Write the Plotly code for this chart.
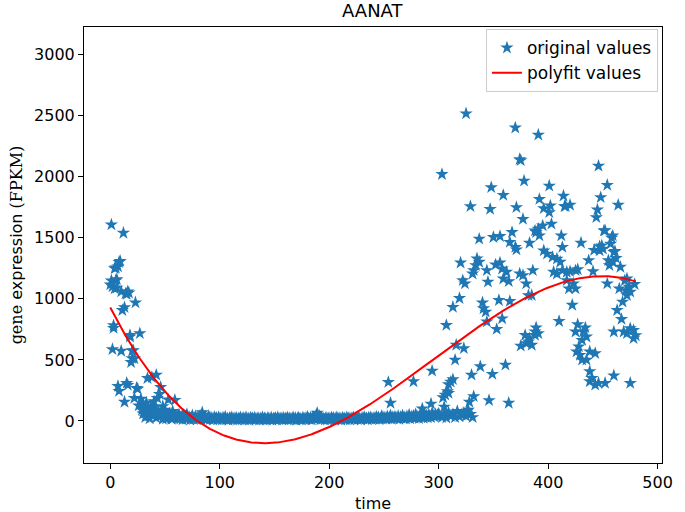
import numpy as np
import plotly.graph_objects as go

# ---------------- data ----------------
# early decay, time 0..60
x_early = list(range(0, 61))
y_early = [1117, 1608, 587, 782, 1084, 1255, 1160, 285, 245, 1310,
           573, 907, 1540, 155, 1043, 310, 293, 1050, 703, 481,
           513, 578, 187, 970, 269, 263, 125, 717, 180, 90,
           140, 65, 110, 150, 350, 41, 60, 120, 358, 90,
           160, 75, 377, 187, 40, 220, 277, 60, 120, 30,
           90, 20, 40, 174, 60, 30, 15, 80, 25, 171, 40]

# overlapping stars in the early cluster
x_early_dup = [1, 2, 3, 4, 5, 6, 7, 8, 10, 13, 15, 16, 18, 20, 22]
y_early_dup = [1150, 1100, 760, 1250, 1150, 1090, 1265, 1300, 1060, 930, 1040, 1060, 690, 575, 510]

# extra low points of the early cluster
x_early_low = [30, 32, 34, 36, 38, 40, 42, 44, 46, 48, 50, 52, 54, 56, 58, 62, 64, 66]
y_early_low = [60, 30, 90, 20, 50, 110, 25, 80, 40, 15, 60, 25, 45, 20, 35, 50, 30, 45]

# flat band, time 61..300
x_band = list(range(61, 301))
y_band = [35, 22, 48, 18, 30, 12, 40, 25, 15, 55, 20, 33, 10, 28, 45, 16, 24, 38, 12, 30,
          20, 42, 15, 70, 26, 18, 35, 12, 22, 40, 14, 28, 20, 10, 32, 18, 25, 12, 30, 16,
          22, 10, 28, 15, 35, 12, 20, 8, 25, 18, 30, 10, 22, 14, 26, 9, 20, 15, 28, 12,
          18, 24, 10, 30, 14, 20, 8, 26, 16, 22, 12, 28, 10, 18, 24, 9, 20, 14, 30, 12,
          22, 16, 10, 26, 18, 12, 28, 8, 20, 15, 24, 10, 30, 14, 18, 22, 9, 26, 12, 20,
          16, 28, 10, 22, 14, 18, 30, 12, 24, 8, 20, 26, 14, 18, 10, 28, 16, 22, 12, 35,
          20, 14, 26, 10, 30, 18, 24, 45, 65, 22, 40, 12, 28, 16, 20, 10, 26, 14, 22, 18,
          12, 28, 16, 24, 10, 20, 30, 14, 22, 18, 8, 26, 15, 20, 12, 28, 18, 24, 10, 22,
          16, 30, 12, 20, 25, 14, 28, 18, 10, 24, 20, 32, 15, 22, 12, 26, 18, 30, 14, 20,
          25, 16, 35, 20, 28, 14, 22, 40, 18, 30, 24, 15, 38, 20, 26, 45, 18, 30, 22, 35,
          28, 20, 40, 16, 32, 25, 45, 22, 30, 18, 38, 26, 50, 20, 35, 28, 42, 24, 55, 30,
          36, 22, 48, 30, 40, 26, 60, 34, 45, 28, 52, 38, 30, 65, 42, 35, 55, 40, 48, 60]

# tail of the band, time 301..331
x_band2 = [301, 303, 305, 307, 309, 311, 313, 315, 317, 319, 321, 323, 325, 327, 329, 331]
y_band2 = [45, 30, 60, 25, 70, 40, 55, 30, 80, 35, 50, 65, 40, 90, 55, 30]

# rising / high region
x_rise = [254, 256, 277, 285, 293, 294, 303, 304, 305, 306, 307, 308, 309, 309, 311, 313, 313, 315, 316, 319,
          320, 322, 323, 324, 325, 326, 328, 329, 330, 331, 332, 332, 334, 335, 337, 337, 338, 340, 341, 343,
          344, 344, 345, 346, 347, 348, 349, 350, 352, 353, 355, 356, 356, 358, 358, 359, 359, 361, 362, 364,
          364, 365, 365, 367, 370, 370, 371, 371, 374, 375, 374, 375, 377, 377, 378, 379, 380, 380, 382, 382,
          383, 383, 385, 385, 386, 388, 388, 388, 389, 389, 391, 392, 391, 391, 392, 395, 395, 396, 396, 399,
          401, 402, 401, 403, 404, 405, 408, 408, 410, 411, 412, 413, 413, 414, 415, 417, 417, 419, 420, 420,
          422, 423, 425, 425, 425, 426, 427, 427, 428, 429, 430, 431, 431, 432, 434, 435, 435, 437, 438, 438,
          438, 440, 441, 443, 443, 444, 445, 446, 446, 447, 448, 449, 450, 451, 452, 454, 454, 455, 456, 457,
          459, 459, 460, 460, 460, 462, 463, 464, 465, 466, 467, 468, 469, 471, 472, 472, 472, 474, 475, 475,
          475, 478, 478, 480, 479]
y_rise = [318, 147, 323, 100, 140, 410, 2021, 192, 115, 214, 785, 242, 228, 300, 320, 340, 933, 500, 622, 1005,
          1296, 1151, 595, 1125, 2518, 79, 155, 1758, 377, 1206, 1233, 201, 1274, 1330, 1302, 1491, 446, 970, 921, 894,
          813, 1233, 1139, 169, 1736, 1913, 383, 1505, 1280, 752, 989, 1513, 1296, 1247, 839, 1850, 1165, 459, 1220, 147,
          1143, 981, 1465, 1546, 2402, 1424, 1750, 1404, 2143, 2135, 1206, 615, 1193, 1654, 1967, 703, 1125, 636, 1029, 649,
          675, 1458, 1029, 622, 1233, 1559, 703, 731, 765, 1546, 2344, 1817, 1573, 717, 1518, 1600, 3065, 1741, 1396, 1369,
          1709, 1763, 1926, 1614, 1342, 1220, 1328, 1206, 817, 1302, 1518, 1424, 1233, 1844, 1758, 1220, 1151, 1084, 1769, 1225,
          950, 1125, 1233, 1084, 731, 568, 1241, 790, 609, 540, 1459, 500, 662, 731, 764, 690, 500, 1315, 568, 405,
          323, 350, 1225, 554, 296, 1668, 1730, 2089, 310, 1396, 1831, 1437, 1410, 1559, 310, 1932, 1125, 1315, 1274, 1451,
          1518, 1302, 1383, 372, 731, 1334, 907, 1769, 1084, 1261, 834, 975, 731, 1070, 1165, 1029, 717, 1098, 1057, 758,
          310, 744, 676, 700, 1120]

# overlapping stars in the late cluster
x_late_dup = [416, 442, 447, 452, 458, 461, 470]
y_late_dup = [1760, 1400, 1430, 1560, 1500, 1390, 1150]

# ---------------- assemble and fit ----------------
x = np.array(x_early + x_early_dup + x_early_low + x_band + x_band2 + x_rise + x_late_dup, dtype=float)
y = np.array(y_early + y_early_dup + y_early_low + y_band + y_band2 + y_rise + y_late_dup, dtype=float)
order = np.argsort(x, kind="stable")
x, y = x[order], y[order]

coef = np.polyfit(x, y, 3)
y_fit = np.polyval(coef, x)

xmin, xmax = x.min(), x.max()
ymin, ymax = min(y.min(), y_fit.min()), max(y.max(), y_fit.max())
xpad = 0.05 * (xmax - xmin)
ypad = 0.05 * (ymax - ymin)

# ---------------- figure ----------------
fig = go.Figure()
fig.add_trace(go.Scatter(
    x=x, y=y, mode="markers", name="original values",
    marker=dict(symbol="star", size=10, color="#1f77b4", line=dict(width=0)),
    legendgroup="a",
))
fig.add_trace(go.Scatter(
    x=x, y=y_fit, mode="lines", name="polyfit values",
    line=dict(color="red", width=2),
    legendgroup="b",
))

font_main = "DejaVu Sans"
axis_common = dict(
    showline=True, linecolor="black", linewidth=1.1, mirror=True,
    ticks="outside", ticklen=5, tickwidth=1.1, tickcolor="black",
    showgrid=False, zeroline=False,
    tickfont=dict(family=font_main, size=16, color="black"),
)

fig.update_layout(
    width=685, height=512,
    margin=dict(l=84, r=12, t=27, b=49),
    paper_bgcolor="white", plot_bgcolor="white",
    showlegend=True,
    xaxis=dict(range=[xmin - xpad, xmax + xpad], tick0=0, dtick=100, **axis_common),
    yaxis=dict(range=[ymin - ypad, ymax + ypad], tick0=0, dtick=500, **axis_common),
    legend=dict(x=0.993, y=0.995, xanchor="right", yanchor="top",
                bgcolor="rgba(255,255,255,0.85)", bordercolor="#cccccc", borderwidth=1,
                font=dict(family=font_main, size=17, color="black"),
                tracegroupgap=0, traceorder="grouped"),
    annotations=[
        dict(text="AANAT", xref="paper", yref="paper", x=0.5, y=1.0367,
             xanchor="center", yanchor="middle", showarrow=False,
             font=dict(family=font_main, size=18, color="black")),
        dict(text="time", xref="paper", yref="paper", x=0.5, y=-0.092,
             xanchor="center", yanchor="middle", showarrow=False,
             font=dict(family=font_main, size=16, color="black")),
        dict(text="<span style=\"font-family:'DejaVu Serif'\">gene</span> expression "
                  "<span style=\"font-family:'DejaVu Serif'\">(FPKM)</span>",
             xref="paper", yref="paper", x=-0.117, y=0.5, textangle=-90,
             xanchor="center", yanchor="middle", showarrow=False,
             font=dict(family=font_main, size=16, color="black")),
    ],
)

fig.write_html("out.html", config={"displayModeBar": False},
               post_script="document.body.style.margin='0';")
